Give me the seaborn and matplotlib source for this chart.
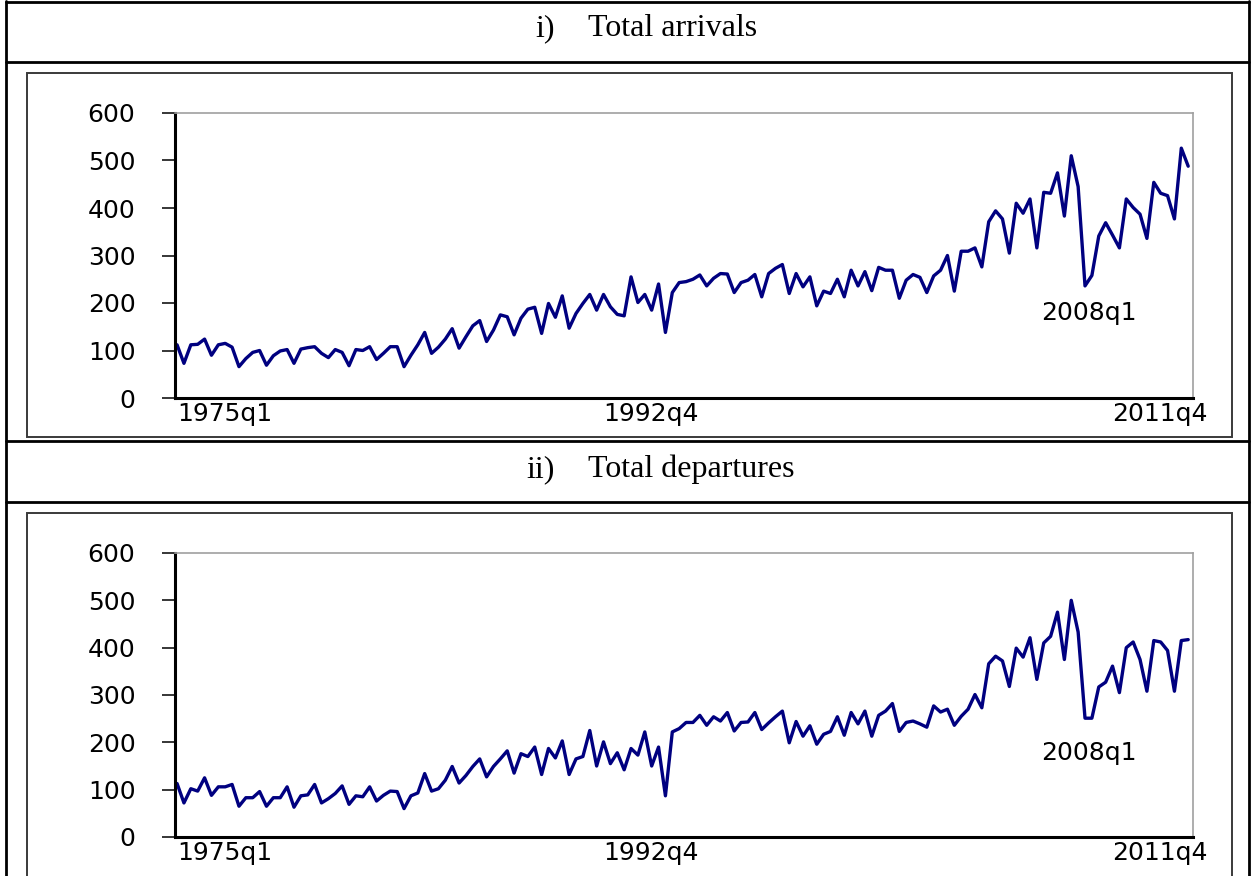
import numpy as np
import pandas as pd
import matplotlib
matplotlib.use("Agg")
import matplotlib.pyplot as plt
import matplotlib.transforms as mtransforms
from matplotlib.lines import Line2D
from matplotlib.patches import Rectangle
import seaborn as sns

# ---------------- data (quarterly, 1975q1 .. 2011q4) ----------------
quarters = [f"{y}q{q}" for y in range(1975, 2012) for q in range(1, 5)]

arrivals = [
    112, 73, 112, 113, 124, 90, 112, 115, 107, 66,
    83, 96, 100, 69, 89, 99, 102, 73, 103, 106,
    108, 94, 85, 102, 96, 68, 102, 100, 108, 81,
    94, 108, 108, 66, 90, 112, 138, 94, 107, 124,
    146, 105, 129, 152, 163, 119, 143, 175, 171, 133,
    168, 187, 191, 136, 199, 170, 215, 147, 178, 199,
    218, 185, 218, 192, 176, 173, 255, 201, 218, 185,
    240, 138, 222, 243, 245, 250, 259, 236, 252, 262,
    261, 222, 243, 248, 260, 213, 262, 273, 281, 220,
    262, 234, 255, 194, 225, 220, 250, 213, 269, 236,
    266, 226, 275, 269, 269, 210, 248, 260, 254, 222,
    257, 269, 300, 225, 309, 309, 316, 276, 371, 394,
    377, 305, 410, 389, 419, 316, 433, 431, 474, 383,
    510, 445, 236, 258, 341, 369, 343, 316, 419, 401,
    387, 336, 454, 431, 426, 377, 526, 488,
]

departures = [
    113, 72, 102, 97, 125, 88, 106, 106, 111, 65,
    83, 83, 96, 65, 83, 83, 106, 63, 87, 89,
    111, 72, 81, 92, 108, 69, 87, 85, 106, 76,
    88, 97, 96, 60, 87, 93, 134, 97, 102, 120,
    149, 114, 130, 149, 165, 127, 149, 165, 182, 135,
    176, 170, 190, 132, 187, 167, 203, 132, 165, 170,
    225, 150, 201, 155, 178, 142, 187, 173, 222, 150,
    190, 87, 222, 229, 242, 242, 257, 236, 254, 245,
    263, 224, 242, 243, 263, 227, 241, 254, 266, 199,
    244, 213, 235, 196, 217, 223, 254, 215, 263, 239,
    266, 213, 257, 266, 282, 223, 242, 245, 239, 232,
    277, 264, 270, 236, 255, 270, 301, 273, 366, 382,
    372, 318, 399, 380, 421, 333, 410, 424, 475, 375,
    500, 433, 251, 251, 317, 327, 361, 305, 400, 412,
    375, 308, 415, 412, 394, 308, 415, 417,
]

tick_labels = ["1975q1", "1992q4", "2011q4"]
annot_label = "2008q1"
panel_numbers = ["i)", "ii)"]
panel_titles = ["Total arrivals", "Total departures"]
y_ticks = [0, 100, 200, 300, 400, 500, 600]

# ---------------- style ----------------
sns.set_theme(style="white")
plt.rcParams["font.family"] = ["DejaVu Sans"]

W, H = 1254, 876
fig = plt.figure(figsize=(W / 100, H / 100), dpi=100)
fig.patch.set_facecolor("white")

# background axes in pixel coordinates for table decoration
bg = fig.add_axes([0, 0, 1, 1], zorder=0)
bg.set_xlim(0, W)
bg.set_ylim(H, 0)
bg.axis("off")

# outer table lines
for yy in [2, 62, 441, 502]:
    bg.add_line(Line2D([6, 1249], [yy, yy], color="black", lw=2.0))
for xx in [6, 1249]:
    bg.add_line(Line2D([xx, xx], [1, H], color="black", lw=2.0))

# inner frames
for (t, b) in [(73, 437), (513, 877)]:
    bg.add_patch(Rectangle((27, t), 1232 - 27, b - t, fill=False,
                           edgecolor="#3a3a3a", lw=1.4))

# header texts
serif = ["Liberation Serif", "DejaVu Serif"]
for num, title, base in zip(panel_numbers, panel_titles, [36, 477]):
    bg.text(555, base, num, ha="right", va="baseline", fontsize=23,
            family=serif, color="black")
    bg.text(588, base, title, ha="left", va="baseline", fontsize=23,
            family=serif, color="black")


def ax_rect(l, t, r, b):
    return [l / W, 1 - b / H, (r - l) / W, (b - t) / H]


axes_px = [(175, 113, 1193, 398), (175, 553, 1193, 837)]
series = [arrivals, departures]
idx = np.arange(len(quarters))
tick_pos = [quarters.index(s) for s in tick_labels]

for (l, t, r, b), vals in zip(axes_px, series):
    ax = fig.add_axes(ax_rect(l, t, r, b), zorder=2)
    ax.set_facecolor("none")
    df = pd.DataFrame({"t": idx, "v": vals})
    sns.lineplot(data=df, x="t", y="v", ax=ax, color="#000080", lw=2.4)
    ax.set_xlim(-0.3, 147.7)
    ax.set_ylim(0, 600)
    ax.set_xlabel("")
    ax.set_ylabel("")
    for s in ["left", "bottom"]:
        ax.spines[s].set_color("black")
        ax.spines[s].set_linewidth(2.2)
    for s in ["top", "right"]:
        ax.spines[s].set_color("#a0a0a0")
        ax.spines[s].set_linewidth(1.2)
    ax.set_yticks(y_ticks)
    ax.set_yticklabels([str(v) for v in y_ticks])
    ax.tick_params(axis="y", left=True, direction="out", length=9.5,
                   width=1.1, color="black", pad=19, labelsize=18,
                   labelcolor="black")
    ax.set_xticks(tick_pos)
    ax.set_xticklabels(tick_labels)
    ax.tick_params(axis="x", bottom=True, length=0, pad=3, labelsize=18,
                   labelcolor="black")
    labs = ax.get_xticklabels()
    aligns = [("left", 0), ("center", -14), ("right", 19)]
    for lab, (ha, dx) in zip(labs, aligns):
        lab.set_ha(ha)
        lab.set_transform(lab.get_transform() +
                          mtransforms.ScaledTranslation(dx / 100, 0,
                                                        fig.dpi_scale_trans))
    ax.text(quarters.index(annot_label) + 0.5, 178, annot_label, ha="center",
            va="center", fontsize=18, color="black")
    ax.grid(False)

fig.savefig("out.png", dpi=100, facecolor="white")
